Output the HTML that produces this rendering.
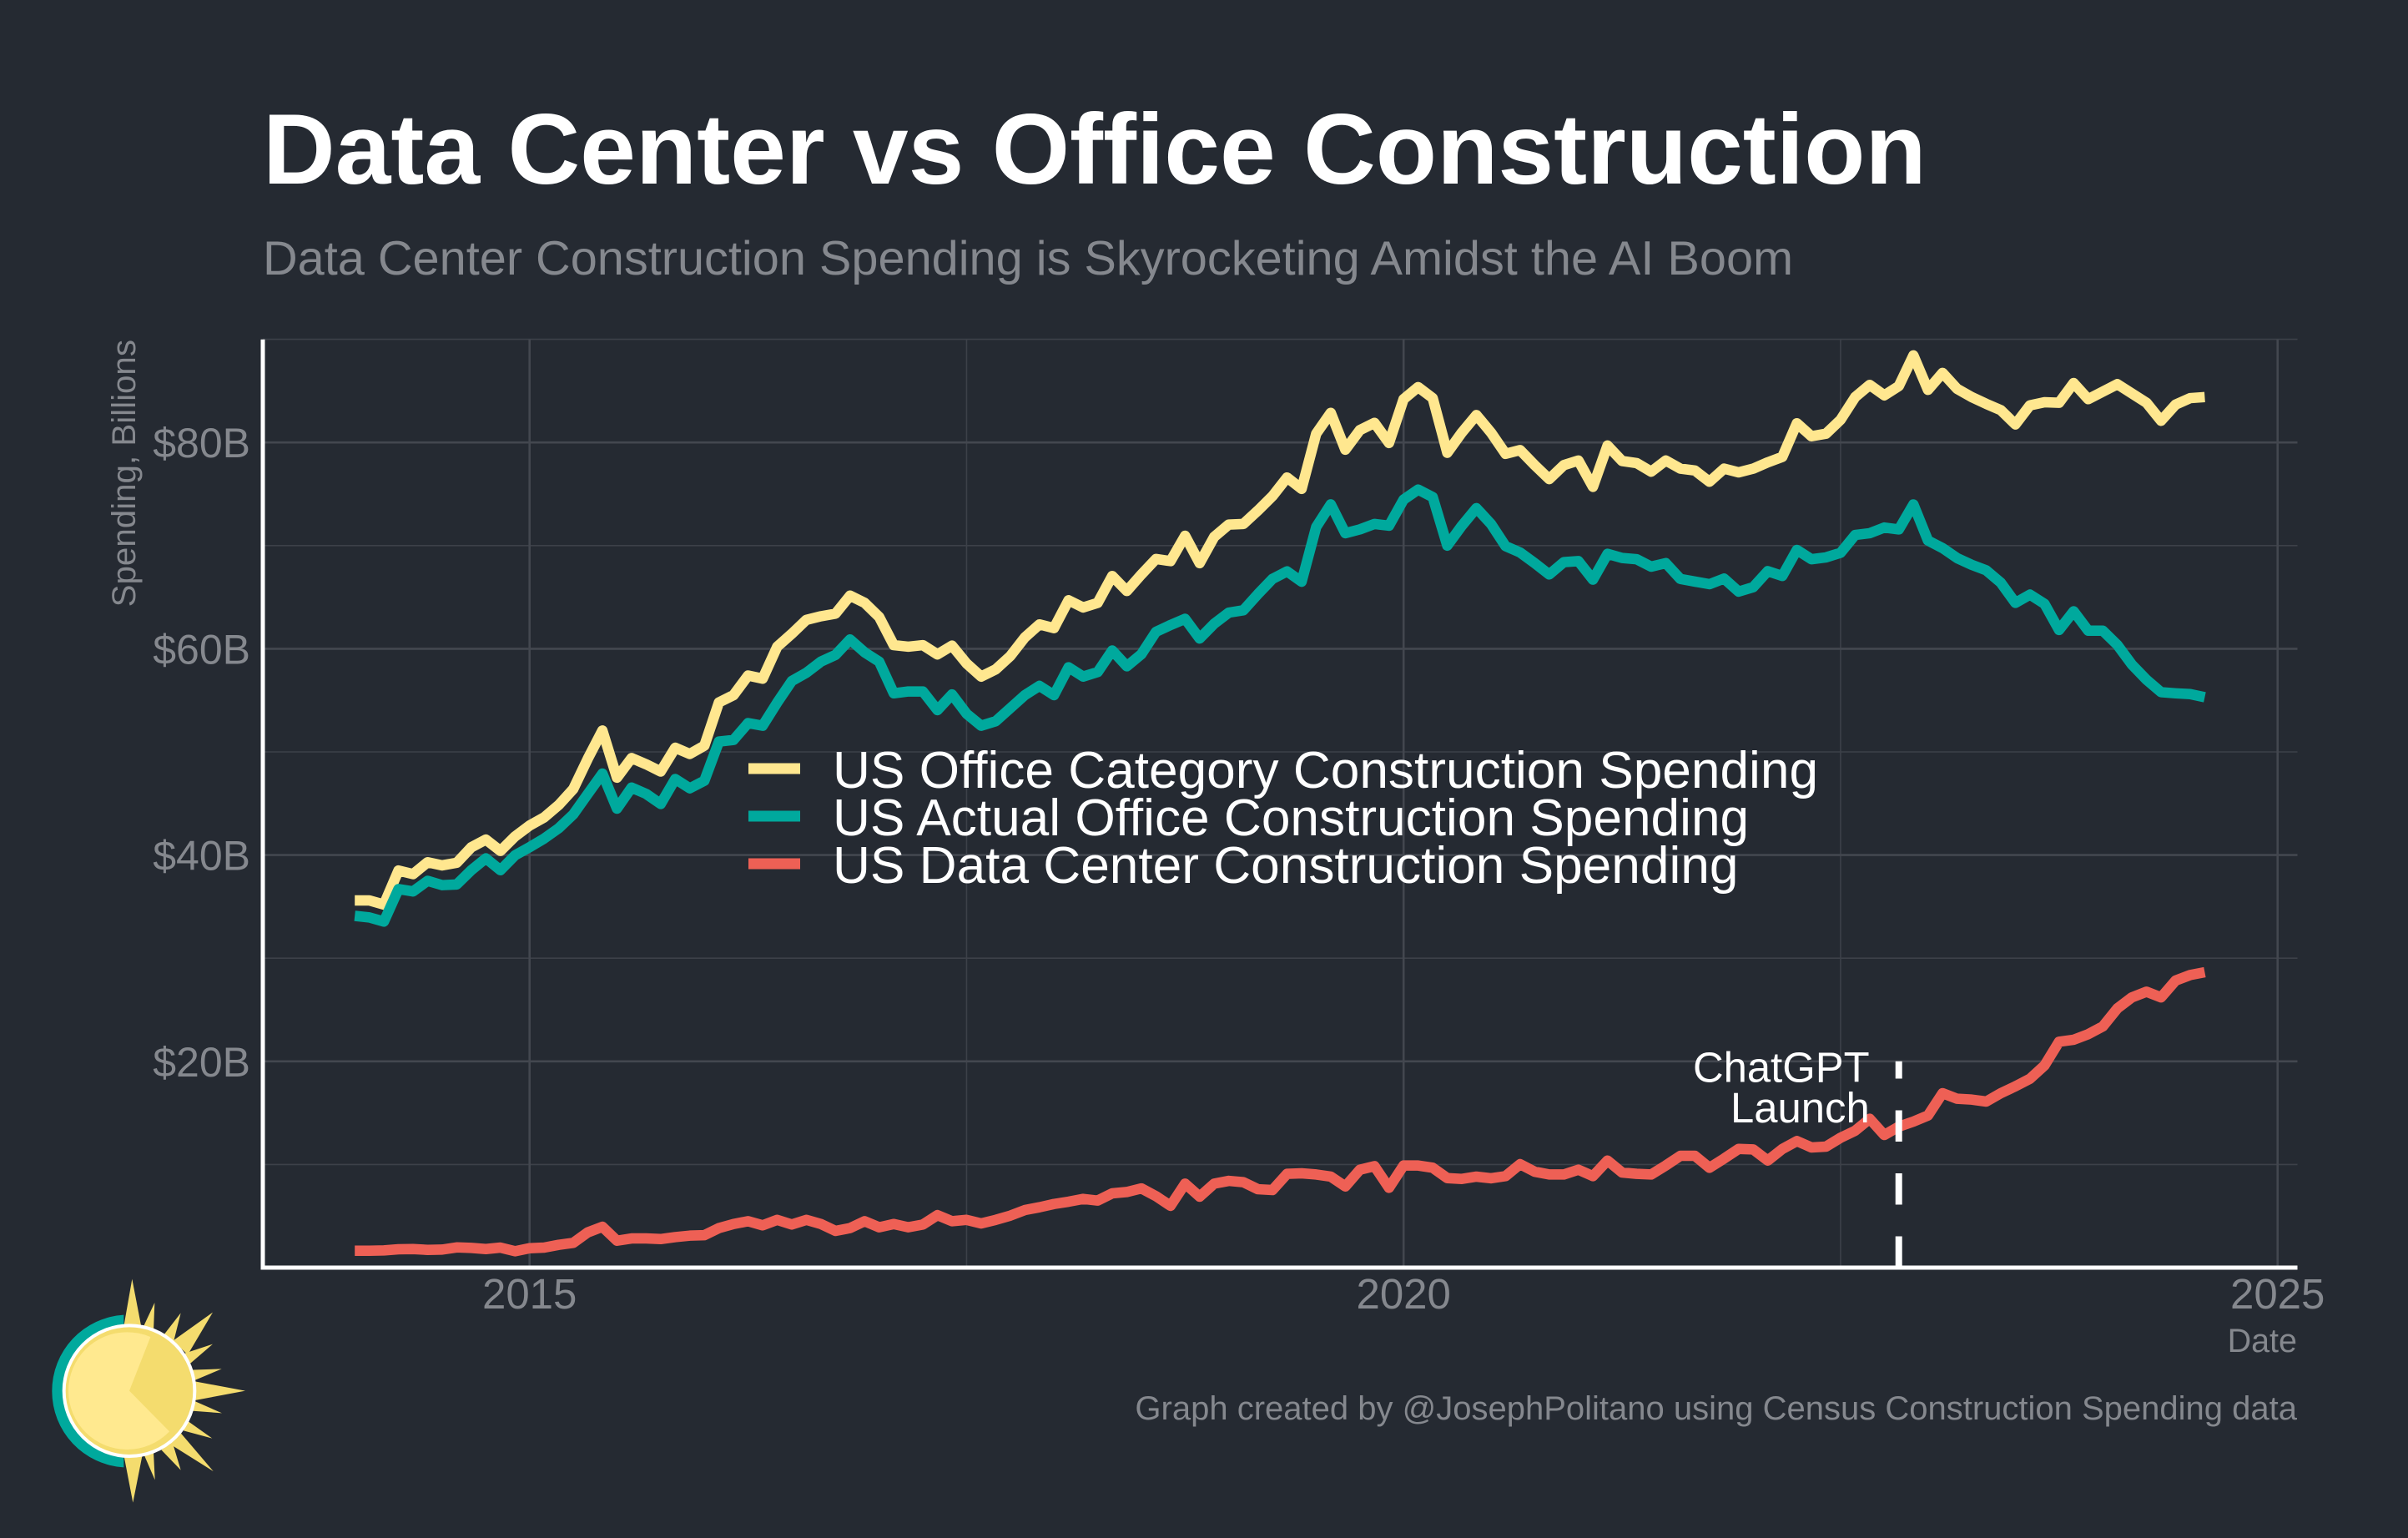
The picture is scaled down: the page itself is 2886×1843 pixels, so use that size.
<!DOCTYPE html>
<html lang="en">
<head>
<meta charset="utf-8">
<title>Data Center vs Office Construction</title>
<style>
html,body{margin:0;padding:0;background:#252a32;}
svg{display:block;font-family:"Liberation Sans",Arial,sans-serif;}
</style>
</head>
<body>
<svg id="chart" xmlns="http://www.w3.org/2000/svg" width="2886" height="1843" viewBox="0 0 2886 1843">
  <rect x="0" y="0" width="2886" height="1843" fill="#252a32"/>
  <text x="315" y="220" font-size="120" font-weight="700" fill="#ffffff">Data Center vs Office Construction</text>
  <text x="315" y="329" font-size="57.7" fill="#85888e">Data Center Construction Spending is Skyrocketing Amidst the AI Boom</text>
  <g id="grid"></g>
  <g id="series"></g>
  <g id="annotation"></g>
  <g id="axes"></g>
  <text transform="translate(162,407) rotate(-90)" text-anchor="end" font-size="40.3" fill="#85888e">Spending, Billions</text>
  <text x="2753" y="1620" text-anchor="end" font-size="39.5" fill="#85888e">Date</text>
  <text x="2753" y="1701" text-anchor="end" font-size="40" fill="#85888e">Graph created by @JosephPolitano using Census Construction Spending data</text>
  <g font-size="62.2" fill="#ffffff">
    <g>
      <rect x="897" y="914.5" width="62" height="13" fill="#ffe78f"/>
      <text x="998" y="944">US Office Category Construction Spending</text>
    </g>
    <g>
      <rect x="897" y="971.5" width="62" height="13" fill="#00a99d"/>
      <text x="998" y="1001">US Actual Office Construction Spending</text>
    </g>
    <g>
      <rect x="897" y="1028.5" width="62" height="13" fill="#ee6055"/>
      <text x="998" y="1058">US Data Center Construction Spending</text>
    </g>
  </g>
  <g transform="translate(0,1480) scale(0.33333)">
    <path d="M445 287 A274 274 0 0 0 187 561 A274 274 0 0 0 445 835 Z" fill="#00a99d"/>
    <g fill="#f4dc6e">
      <polygon points="475,158 443,340 510,340"/>
      <polygon points="556,243 513,335 552,345"/>
      <polygon points="650,280 588,360 625,380"/>
      <polygon points="765,278 622,380 675,430"/>
      <polygon points="765,392 665,425 680,465"/>
      <polygon points="797,481 685,485 700,522"/>
      <polygon points="882,560 695,525 695,595"/>
      <polygon points="798,640 700,597 690,632"/>
      <polygon points="763,731 670,665 660,703"/>
      <polygon points="767,849 640,700 612,752"/>
      <polygon points="650,845 620,745 580,772"/>
      <polygon points="557,880 518,790 552,780"/>
      <polygon points="478,962 445,790 512,790"/>
    </g>
    <circle cx="465" cy="560" r="235" fill="#f4dc6e"/>
    <circle cx="457" cy="560" r="211" fill="#ffe98f"/>
    <path d="M465 560 L549 346 A230 230 0 0 1 627 724 Z" fill="#f4dc6e"/>
    <circle cx="465" cy="560" r="235" fill="none" stroke="#ffffff" stroke-width="12"/>
  </g>
</svg>
<script>
const yMajorTicks = [20, 40, 60, 80];
const yMinorTicks = [10, 30, 50, 70, 90];
const yTickLabels = ["$20B", "$40B", "$60B", "$80B"];
const xMajorTicks = [2015, 2020, 2025];
const xMinorTicks = [2017.5, 2022.5];
const xTickLabels = ["2015", "2020", "2025"];
const startYear = 2014;
const chatgptDate = 2022.833;
const chatgptLabel = ["ChatGPT", "Launch"];

const officeCategory = [35.6,35.6,35.2,38.5,38.15,39.3,39,39.25,40.75,41.5,40.4,41.8,42.86,43.65,44.85,46.4,49.35,52.07,47.5,49.4,48.8,48.1,50.4,49.8,50.6,54.8,55.5,57.4,57.1,60.2,61.45,62.8,63.15,63.4,65.15,64.45,63.08,60.35,60.2,60.35,59.45,60.3,58.57,57.3,58,59.29,61.1,62.36,62,64.7,64,64.45,67.05,65.6,67.2,68.7,68.5,70.95,68.3,70.85,72.04,72.1,73.4,74.8,76.6,75.5,80.85,82.87,79.3,81.2,81.9,79.95,84.2,85.37,84.3,79,80.96,82.66,80.96,78.9,79.26,77.8,76.45,77.8,78.25,75.7,79.7,78.2,78,77.17,78.25,77.46,77.28,76.19,77.46,77.1,77.46,78.07,78.6,81.86,80.6,80.85,82.2,84.4,85.58,84.57,85.47,88.44,85.1,86.74,85.2,84.4,83.74,83.13,81.75,83.6,83.9,83.85,85.76,84.2,84.93,85.65,84.75,83.85,82.1,83.67,84.3,84.4];
const actualOffice = [34.1,33.95,33.55,36.7,36.47,37.5,37.08,37.15,38.53,39.68,38.53,39.97,40.76,41.6,42.6,43.94,45.93,47.9,44.5,46.54,45.93,44.95,47.37,46.47,47.2,51,51.16,52.79,52.54,54.78,56.87,57.67,58.75,59.4,60.9,59.65,58.75,55.68,55.86,55.86,54.05,55.57,53.7,52.54,52.97,54.24,55.5,56.4,55.5,58.2,57.3,57.74,59.83,58.3,59.47,61.64,62.3,62.9,60.99,62.43,63.5,63.73,65.3,66.77,67.5,66.5,71.8,74,71.2,71.57,72.1,71.93,74.46,75.43,74.7,70,71.93,73.63,72.1,69.95,69.33,68.3,67.2,68.4,68.5,66.7,69.2,68.8,68.68,67.96,68.3,66.77,66.51,66.26,66.8,65.54,65.97,67.52,67.06,69.58,68.68,68.86,69.3,71.03,71.2,71.75,71.57,73.99,70.49,69.76,68.79,68.14,67.6,66.4,64.45,65.25,64.35,61.82,63.63,61.75,61.75,60.37,58.46,57,55.79,55.68,55.6,55.3];
const dataCenter = [1.64,1.64,1.67,1.78,1.8,1.72,1.75,1.96,1.91,1.8,1.94,1.59,1.88,1.94,2.21,2.4,3.42,3.96,2.61,2.83,2.83,2.77,2.96,3.1,3.15,3.83,4.23,4.5,4.1,4.63,4.18,4.63,4.23,3.56,3.83,4.5,3.91,4.23,3.91,4.18,5.09,4.5,4.63,4.28,4.63,5.04,5.58,5.85,6.17,6.39,6.66,6.5,7.2,7.33,7.68,6.93,5.99,8.14,6.88,8.14,8.41,8.28,7.6,7.52,9.09,9.14,9.03,8.82,7.87,9.49,9.84,7.74,9.9,9.9,9.68,8.68,8.6,8.82,8.66,8.87,10.03,9.3,9.03,9.03,9.49,8.87,10.38,9.22,9.09,9.03,9.9,10.84,10.84,9.68,10.57,11.51,11.46,10.38,11.5,12.27,11.65,11.73,12.59,13.27,14.43,12.86,13.67,14.16,14.75,16.91,16.37,16.29,16.1,16.91,17.58,18.31,19.6,21.9,22.09,22.63,23.38,25.13,26.2,26.75,26.2,27.83,28.37,28.64];

const svgNS = "http://www.w3.org/2000/svg";
const plotLeft = 315, plotRight = 2753.5, plotBottom = 1519, plotTop = 406.7;
function xScale(year) { return 634.7 + (year - 2015) * 209.5; }
function yScale(value) { return 1519 - value * 12.36; }
function make(parent, tag, attrs) {
  const el = document.createElementNS(svgNS, tag);
  for (const k in attrs) el.setAttribute(k, attrs[k]);
  parent.appendChild(el);
  return el;
}
const grid = document.getElementById("grid");
const axes = document.getElementById("axes");
const series = document.getElementById("series");
const annotation = document.getElementById("annotation");

yMinorTicks.forEach(v => {
  const l = make(grid, "line", {x1: plotLeft, x2: plotRight, y1: yScale(v), y2: yScale(v), stroke: "#3d4149", "stroke-width": 1.6});
  
  
});
xMinorTicks.forEach(v => {
  const l = make(grid, "line", {x1: xScale(v), x2: xScale(v), y1: plotTop, y2: plotBottom, stroke: "#3d4149", "stroke-width": 1.6});
  
  
});
yMajorTicks.forEach((v, i) => {
  const l = make(grid, "line", {x1: plotLeft, x2: plotRight, y1: yScale(v), y2: yScale(v), stroke: "#43474f", "stroke-width": 2.6});
  
  
  const t = make(axes, "text", {x: 300, y: yScale(v) + 18, "text-anchor": "end", "font-size": 50, fill: "#85888e"});
  t.textContent = yTickLabels[i];
  
  
});
xMajorTicks.forEach((v, i) => {
  const l = make(grid, "line", {x1: xScale(v), x2: xScale(v), y1: plotTop, y2: plotBottom, stroke: "#43474f", "stroke-width": 2.6});
  
  
  const t = make(axes, "text", {x: xScale(v), y: 1568, "text-anchor": "middle", "font-size": 51, fill: "#85888e"});
  t.textContent = xTickLabels[i];
  
  
});

function linePath(values) {
  return values.map((v, i) => (i ? "L" : "M") + xScale(startYear + i / 12).toFixed(2) + " " + yScale(v).toFixed(2)).join(" ");
}
const officeLine = make(series, "path", {d: linePath(officeCategory), fill: "none", stroke: "#ffe78f", "stroke-width": 12.5, "stroke-linejoin": "round", "stroke-linecap": "butt"});


const actualLine = make(series, "path", {d: linePath(actualOffice), fill: "none", stroke: "#00a99d", "stroke-width": 12.5, "stroke-linejoin": "round", "stroke-linecap": "butt"});


const dcLine = make(series, "path", {d: linePath(dataCenter), fill: "none", stroke: "#ee6055", "stroke-width": 12.5, "stroke-linejoin": "round", "stroke-linecap": "butt"});



const marker = make(annotation, "line", {x1: xScale(chatgptDate), x2: xScale(chatgptDate), y1: yScale(0), y2: yScale(20), stroke: "#ffffff", "stroke-width": 8, "stroke-dasharray": "37.5 38"});


chatgptLabel.forEach((s, i) => {
  const t = make(annotation, "text", {x: xScale(chatgptDate) - 35, y: 1296.5 + i * 48.5, "text-anchor": "end", "font-size": 50.8, fill: "#ffffff"});
  t.textContent = s;
  
  
});

const leftAxis = make(axes, "line", {x1: plotLeft, x2: plotLeft, y1: plotTop, y2: plotBottom + 2.5, stroke: "#ffffff", "stroke-width": 5});


const bottomAxis = make(axes, "line", {x1: plotLeft - 2.5, x2: plotRight, y1: plotBottom, y2: plotBottom, stroke: "#ffffff", "stroke-width": 5});


</script>
</body>
</html>
